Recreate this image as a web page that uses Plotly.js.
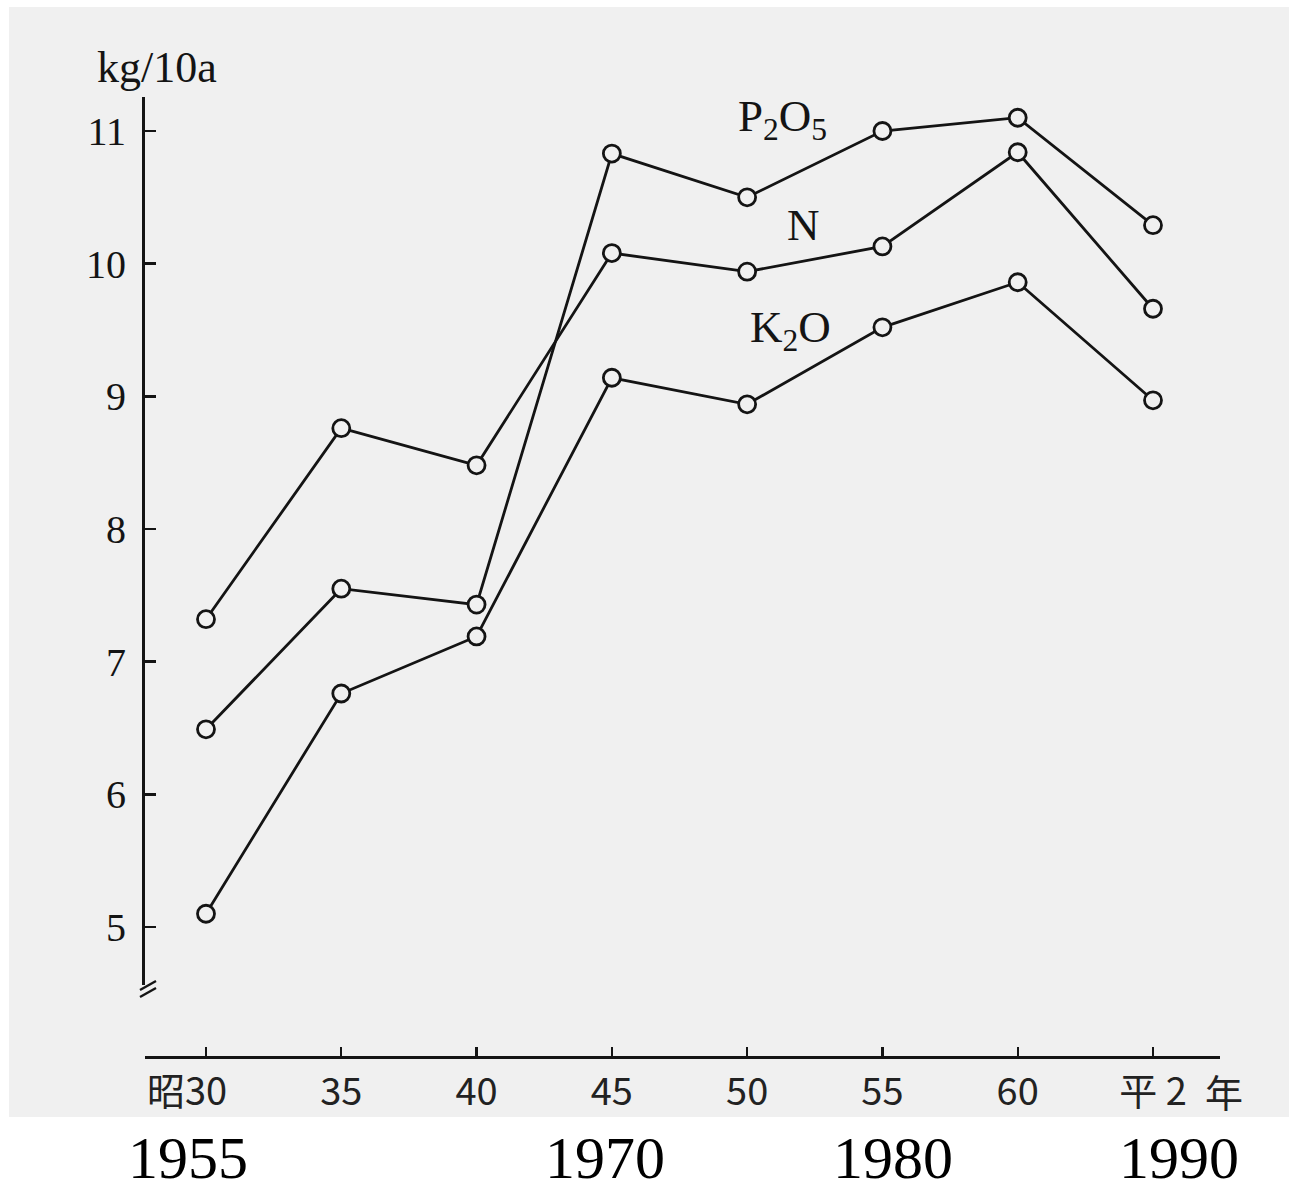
<!DOCTYPE html>
<html>
<head>
<meta charset="utf-8">
<script src="https://cdn.plot.ly/plotly-3.0.1.min.js"></script>
<style>
  html, body { margin: 0; padding: 0; background: #ffffff; }
  #chart { width: 1289px; height: 1192px; }
</style>
</head>
<body>
<div id="chart"></div>
<script>
// ---- data ----
const years = [1955, 1960, 1965, 1970, 1975, 1980, 1985, 1990];
const tickLabels = ["昭30", "35", "40", "45", "50", "55", "60", "平 2"];
const unitLabel = "年";
const valuesN = [7.32, 8.76, 8.48, 10.08, 9.94, 10.13, 10.84, 9.66];
const valuesP2O5 = [6.49, 7.55, 7.43, 10.83, 10.50, 11.00, 11.10, 10.29];
const valuesK2O = [5.10, 6.76, 7.19, 9.14, 8.94, 9.52, 9.86, 8.97];
const yTicks = [5, 6, 7, 8, 9, 10, 11];
const seriesLabels = ["P<sub>2</sub>O<sub>5</sub>", "N", "K<sub>2</sub>O"];
const westernYears = [1955, 1970, 1980, 1990];
const yUnit = "kg/10a";

// ---- geometry / style ----
const W = 1289, H = 1192;
const L = 145, R = 1220, T = 97, B = 1057;   // plot box in px
const BG = "#f0f0f0";
const INK = "#141414";
const px2x = p => (p - L) / (R - L);
const py2y = p => (B - p) / (B - T);

const serif = "Liberation Serif, Times New Roman, serif";
const gothic = "Noto Sans CJK JP, Noto Sans, sans-serif";

const ticktext = tickLabels.map((t, i) =>
  i === 0 ? t + '<span style="color:rgba(0,0,0,0)">' + t.charAt(0) + '</span>' : t);

function series(vals) {
  return {
    x: years, y: vals, type: "scatter", mode: "lines+markers",
    line: { color: INK, width: 2.8 },
    marker: { symbol: "circle", size: 17, color: BG, line: { color: INK, width: 2.8 } },
    showlegend: false, hoverinfo: "skip", cliponaxis: false
  };
}

const data = [series(valuesP2O5), series(valuesN), series(valuesK2O)];

const labelPos = [
  { x: 1976.3, y: 11.09 },
  { x: 1977.1, y: 10.29 },
  { x: 1976.6, y: 9.50 }
];

const annotations = [];
seriesLabels.forEach((s, i) => {
  annotations.push({
    x: labelPos[i].x, y: labelPos[i].y, xref: "x", yref: "y",
    text: s, showarrow: false, xanchor: "center", yanchor: "middle",
    font: { family: serif, size: 45, color: INK }
  });
});
annotations.push({
  x: px2x(157), y: py2y(68), xref: "paper", yref: "paper",
  text: yUnit, showarrow: false, xanchor: "center", yanchor: "middle",
  font: { family: serif, size: 44, color: INK }
});
annotations.push({
  x: px2x(1224), y: py2y(1090), xref: "paper", yref: "paper",
  text: unitLabel, showarrow: false, xanchor: "center", yanchor: "middle",
  font: { family: gothic, size: 38, color: "#222" }
});
const westernShift = [-18, -7, 11, 26];
westernYears.forEach((yr, i) => {
  annotations.push({
    x: yr, y: py2y(1158), xref: "x", yref: "paper", xshift: westernShift[i],
    text: String(yr), showarrow: false, xanchor: "center", yanchor: "middle",
    font: { family: serif, size: 60, color: "#000" }
  });
});

const shapes = [
  { type: "rect", xref: "paper", yref: "paper", layer: "below",
    x0: px2x(9), x1: px2x(1289), y0: py2y(1117), y1: py2y(7),
    fillcolor: BG, line: { width: 0 } },
  { type: "line", xref: "paper", yref: "paper",
    x0: px2x(140), y0: py2y(990), x1: px2x(156), y1: py2y(981),
    line: { color: INK, width: 2.4 } },
  { type: "line", xref: "paper", yref: "paper",
    x0: px2x(140), y0: py2y(997), x1: px2x(156), y1: py2y(988),
    line: { color: INK, width: 2.4 } }
];

const pxPerYear = (1153 - 206) / 35;
const xr0 = 1955 - (206 - L) / pxPerYear;
const xr1 = 1990 + (R - 1153) / pxPerYear;
const pxPerUnit = (927 - 131) / 6;
const yDomBottom = py2y(985);
const yr1 = 11 + (131 - T) / pxPerUnit;
const yr0 = 5 - (985 - 927) / pxPerUnit;

const layout = {
  width: W, height: H,
  margin: { l: L, r: W - R, t: T, b: H - B, pad: 0 },
  paper_bgcolor: "#ffffff",
  plot_bgcolor: "rgba(0,0,0,0)",
  showlegend: false,
  xaxis: {
    range: [xr0, xr1], anchor: "free", position: 0,
    tickmode: "array", tickvals: years, ticktext: ticktext,
    ticks: "inside", ticklen: 9, tickwidth: 2.4, tickcolor: INK,
    showline: true, linecolor: INK, linewidth: 3,
    showgrid: false, zeroline: false,
    ticklabelstandoff: 0,
    tickfont: { family: gothic, size: 38, color: "#222" }
  },
  yaxis: {
    domain: [yDomBottom, 1],
    range: [yr0, yr1],
    tickmode: "array", tickvals: yTicks,
    ticks: "inside", ticklen: 11, tickwidth: 2.4, tickcolor: INK,
    showline: true, linecolor: INK, linewidth: 3,
    showgrid: false, zeroline: false,
    ticklabelstandoff: 8,
    tickfont: { family: serif, size: 40, color: INK }
  },
  annotations: annotations,
  shapes: shapes
};

Plotly.newPlot("chart", data, layout, { staticPlot: true, displayModeBar: false });
</script>
</body>
</html>
